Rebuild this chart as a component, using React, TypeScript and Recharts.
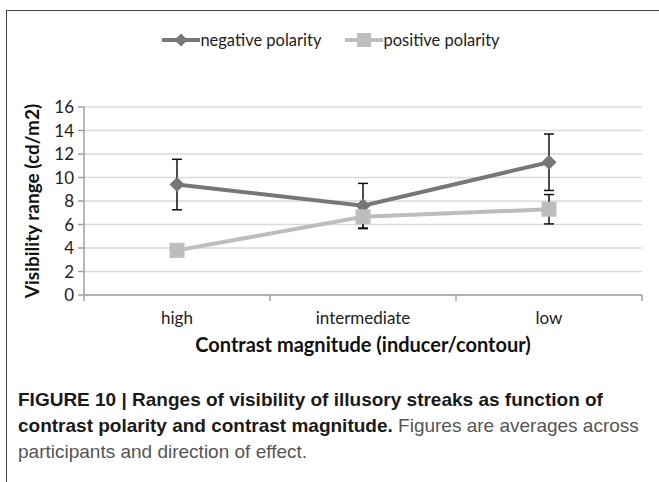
import { CartesianGrid, ErrorBar, Legend, Line, LineChart, XAxis, YAxis } from 'recharts'

const categories = ['high', 'intermediate', 'low']
const negativeValues = [9.4, 7.6, 11.3]
const negativeErrors = [2.15, 1.9, 2.4]
const positiveValues = [3.8, 6.65, 7.3]
const positiveErrors = [0.45, 1.0, 1.25]
const yTicks = [0, 2, 4, 6, 8, 10, 12, 14, 16]

const NEG = '#777777'
const POS = '#bdbdbd'
const AXIS = '#a0a0a0'
const chartFont = 'Lato, "Open Sans", sans-serif'

const data = categories.map((c, i) => ({
  name: c,
  negative: negativeValues[i],
  negErr: negativeErrors[i],
  positive: positiveValues[i],
  posErr: positiveErrors[i],
}))

function Diamond(props: any) {
  const { cx, cy } = props
  if (cx == null || cy == null) return null
  const r = 7.5
  return <polygon points={`${cx},${cy - r} ${cx + r},${cy} ${cx},${cy + r} ${cx - r},${cy}`} fill={NEG} />
}

function Square(props: any) {
  const { cx, cy } = props
  if (cx == null || cy == null) return null
  return <rect x={cx - 7.5} y={cy - 7.5} width={15} height={15} fill={POS} />
}

function CategoryTick(props: any) {
  const { x, y, payload, index } = props
  const half = payload?.offset ?? 93
  return (
    <g>
      <line x1={x - half} y1={y} x2={x - half} y2={y + 6} stroke={AXIS} strokeWidth={1.5} />
      {index === categories.length - 1 && (
        <line x1={x + half} y1={y} x2={x + half} y2={y + 6} stroke={AXIS} strokeWidth={1.5} />
      )}
      <text x={x} y={y + 29} textAnchor="middle" fontSize={17} fill="#222" fontFamily={chartFont}>
        {payload.value}
      </text>
    </g>
  )
}

function LegendContent(props: any) {
  const items = props.payload ?? []
  return (
    <div style={{ display: 'flex', justifyContent: 'center', gap: 24, fontFamily: chartFont, fontSize: 16.5, color: '#222' }}>
      {items.map((it: any) => (
        <div key={it.value} style={{ display: 'flex', alignItems: 'center' }}>
          <svg width={38} height={16}>
            <line x1={0} y1={8} x2={38} y2={8} stroke={it.color} strokeWidth={4} />
            {it.dataKey === 'negative' ? (
              <polygon points="19,1.5 25.5,8 19,14.5 12.5,8" fill={it.color} />
            ) : (
              <rect x={12} y={1} width={14} height={14} fill={it.color} />
            )}
          </svg>
          <span>{it.value}</span>
        </div>
      ))}
    </div>
  )
}

export default function App() {
  return (
    <div style={{ position: 'absolute', left: 0, top: 0, width: 659, height: 482, overflow: 'hidden', background: '#fff' }}>
      <div
        style={{
          position: 'absolute',
          left: 6,
          top: 10,
          width: 700,
          height: 500,
          borderLeft: '1px solid #444',
          borderTop: '1px solid #444',
        }}
      />
      <div style={{ position: 'absolute', left: 0, top: 0 }}>
        <LineChart width={659} height={370} data={data} margin={{ top: 107, right: 17, bottom: 15, left: 24 }}>
          <CartesianGrid vertical={false} stroke="#dadada" strokeWidth={1.5} />
          <XAxis
            dataKey="name"
            scale="band"
            height={60}
            tickLine={false}
            tickSize={0}
            tickMargin={0}
            axisLine={{ stroke: AXIS, strokeWidth: 1.5 }}
            tick={<CategoryTick />}
            interval={0}
            label={{
              value: 'Contrast magnitude (inducer/contour)',
              position: 'insideBottom',
              offset: 3,
              style: { fontFamily: chartFont, fontSize: 20, fontWeight: 700, fill: '#111' },
            }}
          />
          <YAxis
            width={60}
            domain={[0, 16]}
            ticks={yTicks}
            interval={0}
            tickSize={6}
            tickMargin={4}
            tickLine={{ stroke: AXIS, strokeWidth: 1.5 }}
            axisLine={{ stroke: AXIS, strokeWidth: 1.5 }}
            tick={{ fontSize: 17, fill: '#222', fontFamily: chartFont }}
            label={{
              value: 'Visibility range (cd/m2)',
              angle: -90,
              position: 'insideLeft',
              offset: 8,
              style: { textAnchor: 'middle', fontFamily: chartFont, fontSize: 19, fontWeight: 700, fill: '#111' },
            }}
          />
          <Legend
            layout="horizontal"
            verticalAlign="middle"
            align="center"
            content={<LegendContent />}
            wrapperStyle={{ top: 30, left: 0, width: 662 }}
          />
          <Line
            dataKey="negative"
            name="negative polarity"
            stroke={NEG}
            strokeWidth={4}
            dot={<Diamond />}
            activeDot={false}
            isAnimationActive={false}
          >
            <ErrorBar dataKey="negErr" direction="y" width={5} stroke="#111" strokeWidth={1.5} isAnimationActive={false} />
          </Line>
          <Line
            dataKey="positive"
            name="positive polarity"
            stroke={POS}
            strokeWidth={4}
            dot={<Square />}
            activeDot={false}
            isAnimationActive={false}
          >
            <ErrorBar dataKey="posErr" direction="y" width={5} stroke="#111" strokeWidth={1.5} isAnimationActive={false} />
          </Line>
        </LineChart>
      </div>
      <div
        style={{
          position: 'absolute',
          left: 18,
          top: 387,
          width: 641,
          fontFamily: '"Liberation Sans", Arial, sans-serif',
          fontSize: 19,
          lineHeight: '26px',
          color: '#555',
          whiteSpace: 'nowrap',
        }}
      >
        <b style={{ color: '#1a1a1a' }}>FIGURE 10 | Ranges of visibility of illusory streaks as function of</b>
        <br />
        <b style={{ color: '#1a1a1a' }}>contrast polarity and contrast magnitude.</b> Figures are averages across
        <br />
        participants and direction of effect.
      </div>
    </div>
  )
}
